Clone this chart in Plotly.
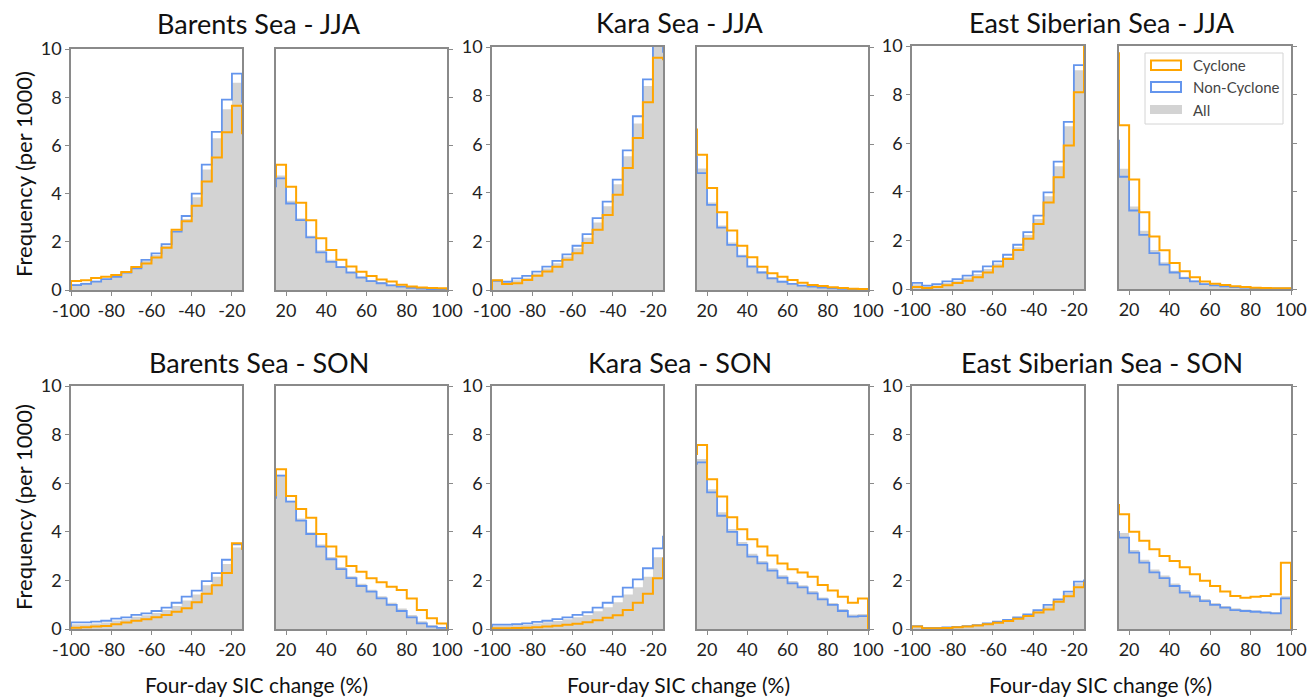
import plotly.graph_objects as go

W, H = 1314, 697

# Bin edges (5 % wide). The outermost bin on the inner side of each panel
# lies past the axis limit, so only its step riser shows at the frame.
NEG_EDGES = list(range(-100, -5, 5))   # -100 ... -10
POS_EDGES = list(range(10, 105, 5))    # 10 ... 100
NEG_RANGE = [-100, -15]
POS_RANGE = [15, 100]

NEG_TICKS = [-100, -80, -60, -40, -20]
NEG_TICKTEXT = ["-100", "-80", "-60", "-40", "-20"]
POS_TICKS = [20, 40, 60, 80, 100]
POS_TICKTEXT = ["20", "40", "60", "80", "100"]
Y_TICKS = [0, 2, 4, 6, 8, 10]

REGIONS = ["Barents Sea", "Kara Sea", "East Siberian Sea"]
SEASONS = ["JJA", "SON"]
X_TITLE = "Four-day SIC change (%)"
Y_TITLE = "Frequency (per 1000)"

# ---- Frequencies (per 1000), summer (JJA) ----
barents_jja_cyc_neg = [0.37, 0.4, 0.5, 0.55, 0.62, 0.75, 0.95, 1.1, 1.35, 1.75, 2.5, 2.85, 3.5, 4.5, 5.5, 6.55, 7.65, 6.5]
barents_jja_non_neg = [0.2, 0.25, 0.35, 0.45, 0.55, 0.72, 0.9, 1.25, 1.52, 1.9, 2.42, 3.07, 4.0, 5.2, 6.56, 7.9, 8.98, 7.8]
barents_jja_all_neg = [0.25, 0.3, 0.38, 0.47, 0.55, 0.72, 0.9, 1.2, 1.45, 1.85, 2.45, 2.95, 3.85, 5.0, 6.3, 7.5, 8.6, 7.5]
barents_jja_cyc_pos = [4.7, 5.2, 4.28, 3.62, 2.89, 2.15, 1.66, 1.25, 0.97, 0.76, 0.58, 0.44, 0.35, 0.22, 0.15, 0.1, 0.08, 0.07]
barents_jja_non_pos = [4.3, 4.63, 3.59, 2.9, 2.18, 1.56, 1.17, 0.95, 0.72, 0.51, 0.37, 0.28, 0.19, 0.14, 0.09, 0.06, 0.04, 0.03]
barents_jja_all_pos = [4.4, 4.75, 3.7, 2.98, 2.25, 1.65, 1.25, 1.0, 0.78, 0.57, 0.42, 0.32, 0.23, 0.16, 0.11, 0.07, 0.05, 0.04]

kara_jja_cyc_neg = [0.4, 0.25, 0.28, 0.41, 0.59, 0.76, 0.96, 1.24, 1.51, 1.93, 2.48, 3.09, 3.92, 5.02, 6.26, 7.73, 9.56, 9.5]
kara_jja_non_neg = [0.38, 0.34, 0.48, 0.58, 0.76, 0.96, 1.2, 1.47, 1.82, 2.3, 2.96, 3.64, 4.54, 5.75, 7.15, 8.67, 10.2, 9.8]
kara_jja_all_neg = [0.38, 0.3, 0.4, 0.5, 0.68, 0.88, 1.1, 1.38, 1.72, 2.15, 2.78, 3.45, 4.35, 5.5, 6.85, 8.4, 10.05, 9.7]
kara_jja_cyc_pos = [6.6, 5.57, 4.2, 3.2, 2.45, 1.82, 1.35, 0.96, 0.69, 0.55, 0.41, 0.3, 0.21, 0.16, 0.11, 0.08, 0.05, 0.04]
kara_jja_non_pos = [5.5, 4.81, 3.5, 2.57, 1.86, 1.38, 0.96, 0.72, 0.48, 0.34, 0.25, 0.18, 0.14, 0.1, 0.07, 0.05, 0.03, 0.02]
kara_jja_all_pos = [5.6, 5.0, 3.6, 2.65, 1.95, 1.45, 1.02, 0.77, 0.53, 0.38, 0.28, 0.2, 0.15, 0.11, 0.08, 0.05, 0.03, 0.02]

esib_jja_cyc_neg = [0.08, 0.04, 0.08, 0.15, 0.25, 0.34, 0.48, 0.68, 0.93, 1.23, 1.61, 2.07, 2.67, 3.56, 4.6, 5.91, 8.1, 11.0]
esib_jja_non_neg = [0.25, 0.14, 0.2, 0.31, 0.41, 0.55, 0.72, 0.93, 1.14, 1.41, 1.82, 2.34, 3.02, 3.98, 5.24, 6.88, 9.21, 9.0]
esib_jja_all_neg = [0.2, 0.1, 0.15, 0.25, 0.35, 0.47, 0.62, 0.82, 1.05, 1.32, 1.72, 2.22, 2.88, 3.82, 5.05, 6.7, 9.0, 9.0]
esib_jja_cyc_pos = [9.7, 6.74, 4.51, 3.16, 2.16, 1.59, 1.07, 0.73, 0.48, 0.31, 0.22, 0.16, 0.11, 0.08, 0.05, 0.04, 0.03, 0.03]
esib_jja_non_pos = [6.1, 4.62, 3.23, 2.23, 1.48, 1.0, 0.68, 0.45, 0.31, 0.2, 0.15, 0.11, 0.08, 0.06, 0.04, 0.03, 0.02, 0.02]
esib_jja_all_pos = [6.3, 4.95, 3.4, 2.4, 1.6, 1.1, 0.75, 0.5, 0.35, 0.23, 0.17, 0.12, 0.09, 0.06, 0.04, 0.03, 0.02, 0.02]

# ---- Frequencies (per 1000), autumn (SON) ----
barents_son_cyc_neg = [0.05, 0.07, 0.1, 0.12, 0.2, 0.27, 0.34, 0.4, 0.48, 0.58, 0.71, 0.85, 1.1, 1.45, 1.8, 2.3, 3.53, 3.3]
barents_son_non_neg = [0.27, 0.27, 0.3, 0.34, 0.43, 0.48, 0.58, 0.64, 0.74, 0.88, 1.08, 1.33, 1.58, 1.97, 2.3, 2.85, 3.48, 3.3]
barents_son_all_neg = [0.2, 0.2, 0.23, 0.27, 0.35, 0.4, 0.5, 0.57, 0.66, 0.78, 0.95, 1.17, 1.42, 1.8, 2.15, 2.68, 3.35, 3.2]
barents_son_cyc_pos = [5.5, 6.57, 5.47, 4.94, 4.58, 3.91, 3.39, 2.98, 2.59, 2.36, 2.09, 1.92, 1.74, 1.6, 1.26, 0.78, 0.44, 0.23]
barents_son_non_pos = [5.4, 6.31, 5.24, 4.46, 3.91, 3.39, 2.87, 2.46, 2.09, 1.77, 1.54, 1.26, 0.99, 0.74, 0.48, 0.23, 0.1, 0.05]
barents_son_all_pos = [5.45, 6.35, 5.28, 4.55, 3.98, 3.48, 2.96, 2.55, 2.17, 1.86, 1.62, 1.35, 1.08, 0.84, 0.58, 0.32, 0.16, 0.08]

kara_son_cyc_neg = [0.03, 0.03, 0.04, 0.05, 0.07, 0.1, 0.13, 0.17, 0.22, 0.28, 0.36, 0.46, 0.57, 0.78, 1.08, 1.45, 2.09, 2.9]
kara_son_non_neg = [0.18, 0.18, 0.2, 0.23, 0.29, 0.34, 0.41, 0.48, 0.58, 0.69, 0.88, 1.08, 1.33, 1.7, 2.04, 2.5, 3.32, 3.8]
kara_son_all_neg = [0.14, 0.14, 0.16, 0.18, 0.23, 0.28, 0.33, 0.4, 0.48, 0.58, 0.73, 0.9, 1.1, 1.42, 1.72, 2.15, 2.95, 3.4]
kara_son_cyc_pos = [7.2, 7.57, 6.16, 5.45, 4.6, 4.1, 3.69, 3.39, 3.02, 2.7, 2.46, 2.32, 2.15, 1.81, 1.58, 1.33, 1.08, 1.26]
kara_son_non_pos = [6.8, 6.86, 5.62, 4.66, 4.0, 3.46, 2.98, 2.7, 2.4, 2.11, 1.88, 1.71, 1.47, 1.22, 0.99, 0.74, 0.51, 0.53]
kara_son_all_pos = [6.9, 7.0, 5.75, 4.8, 4.12, 3.58, 3.1, 2.8, 2.5, 2.21, 1.98, 1.8, 1.56, 1.3, 1.07, 0.82, 0.6, 0.62]

esib_son_cyc_neg = [0.1, 0.03, 0.03, 0.04, 0.07, 0.1, 0.14, 0.2, 0.26, 0.33, 0.42, 0.53, 0.68, 0.8, 1.12, 1.35, 1.72, 1.9]
esib_son_non_neg = [0.12, 0.05, 0.05, 0.07, 0.09, 0.12, 0.16, 0.23, 0.3, 0.37, 0.48, 0.6, 0.78, 0.99, 1.22, 1.54, 1.95, 2.0]
esib_son_all_neg = [0.11, 0.04, 0.04, 0.06, 0.08, 0.11, 0.15, 0.22, 0.28, 0.35, 0.46, 0.57, 0.74, 0.94, 1.19, 1.48, 1.88, 1.95]
esib_son_cyc_pos = [5.1, 4.72, 4.0, 3.63, 3.28, 3.0, 2.8, 2.54, 2.25, 1.99, 1.77, 1.54, 1.36, 1.29, 1.33, 1.36, 1.43, 2.73]
esib_son_non_pos = [4.0, 3.76, 3.14, 2.73, 2.33, 2.09, 1.77, 1.5, 1.33, 1.15, 0.99, 0.88, 0.78, 0.74, 0.71, 0.67, 0.64, 1.26]
esib_son_all_pos = [4.1, 3.95, 3.25, 2.85, 2.45, 2.2, 1.87, 1.6, 1.42, 1.23, 1.07, 0.95, 0.85, 0.8, 0.77, 0.73, 0.7, 1.35]

SERIES = {
    ("Barents Sea", "JJA"): (barents_jja_cyc_neg, barents_jja_non_neg, barents_jja_all_neg,
                             barents_jja_cyc_pos, barents_jja_non_pos, barents_jja_all_pos),
    ("Kara Sea", "JJA"): (kara_jja_cyc_neg, kara_jja_non_neg, kara_jja_all_neg,
                          kara_jja_cyc_pos, kara_jja_non_pos, kara_jja_all_pos),
    ("East Siberian Sea", "JJA"): (esib_jja_cyc_neg, esib_jja_non_neg, esib_jja_all_neg,
                                   esib_jja_cyc_pos, esib_jja_non_pos, esib_jja_all_pos),
    ("Barents Sea", "SON"): (barents_son_cyc_neg, barents_son_non_neg, barents_son_all_neg,
                             barents_son_cyc_pos, barents_son_non_pos, barents_son_all_pos),
    ("Kara Sea", "SON"): (kara_son_cyc_neg, kara_son_non_neg, kara_son_all_neg,
                          kara_son_cyc_pos, kara_son_non_pos, kara_son_all_pos),
    ("East Siberian Sea", "SON"): (esib_son_cyc_neg, esib_son_non_neg, esib_son_all_neg,
                                   esib_son_cyc_pos, esib_son_non_pos, esib_son_all_pos),
}

# ---- Styling ----
C_CYC = "#FFA500"
C_NON = "#6495ED"
C_ALL = "#D3D3D3"
C_FRAME = "#8a8a8a"
FONT = "Lato"
TXT = "#222222"

# Panel frames in pixels: columns (x0, x1); rows (y_top, y_bottom) per region
COL_PX = [(71, 242), (276, 447), (492, 663), (697, 868), (912, 1084), (1119, 1291)]
ROW_PX = [[(49, 290), (47, 290), (46, 289)],
          [(386, 629), (386, 629), (386, 629)]]
TITLE_Y = [[24, 22.5, 22.5], [362, 362, 362]]
XTITLE_Y = 684
XTITLE_X = [256, 678, 1100]
YTITLE_X = 23
YTITLE_Y = [174, 507]


def px_x(x):
    return x / W


def px_y(y):
    return 1 - y / H


def step_xy(edges, vals):
    xs = [edges[0]] + list(edges)
    ys = [0] + list(vals) + [0]
    return xs, ys


fig = go.Figure()
layout = {}
annotations = []

for r, season in enumerate(SEASONS):
    for c, region in enumerate(REGIONS):
        cyc_n, non_n, all_n, cyc_p, non_p, all_p = SERIES[(region, season)]
        y_top, y_bot = ROW_PX[r][c]
        for side in (0, 1):
            col = 2 * c + side
            k = r * 6 + col + 1
            xa = "x" if k == 1 else f"x{k}"
            ya = "y" if k == 1 else f"y{k}"
            edges = NEG_EDGES if side == 0 else POS_EDGES
            sets = (all_n, non_n, cyc_n) if side == 0 else (all_p, non_p, cyc_p)

            xs, ys = step_xy(edges, sets[0])
            fig.add_trace(go.Scatter(x=xs, y=ys, mode="lines", line=dict(shape="hv", width=0),
                                     fill="tozeroy", fillcolor=C_ALL, xaxis=xa, yaxis=ya,
                                     showlegend=False, hoverinfo="skip"))
            xs, ys = step_xy(edges, sets[1])
            fig.add_trace(go.Scatter(x=xs, y=ys, mode="lines", line=dict(shape="hv", width=1.8, color=C_NON),
                                     xaxis=xa, yaxis=ya, showlegend=False, hoverinfo="skip"))
            xs, ys = step_xy(edges, sets[2])
            fig.add_trace(go.Scatter(x=xs, y=ys, mode="lines", line=dict(shape="hv", width=2, color=C_CYC),
                                     xaxis=xa, yaxis=ya, showlegend=False, hoverinfo="skip"))

            x0, x1 = COL_PX[col]
            xkey = "xaxis" if k == 1 else f"xaxis{k}"
            ykey = "yaxis" if k == 1 else f"yaxis{k}"
            layout[xkey] = dict(
                domain=[px_x(x0), px_x(x1)], anchor=ya, automargin=False,
                range=NEG_RANGE if side == 0 else POS_RANGE,
                tickmode="array",
                tickvals=NEG_TICKS if side == 0 else POS_TICKS,
                ticktext=NEG_TICKTEXT if side == 0 else POS_TICKTEXT,
                ticks="outside", ticklen=4, tickwidth=1.2, tickcolor=C_FRAME,
                showline=True, mirror=True, linecolor=C_FRAME, linewidth=1.6,
                layer="below traces",
                showgrid=False, zeroline=False, fixedrange=True,
                tickfont=dict(family=FONT, size=18, color=TXT),
            )
            layout[ykey] = dict(
                domain=[px_y(y_bot), px_y(y_top)], anchor=xa, automargin=False,
                range=[0, 10], tickmode="array", tickvals=Y_TICKS,
                side="left" if side == 0 else "right",
                showticklabels=(side == 0),
                ticks="outside", ticklen=4, tickwidth=1.2, tickcolor=C_FRAME,
                showline=True, mirror=True, linecolor=C_FRAME, linewidth=1.6,
                layer="below traces",
                showgrid=False, zeroline=False, fixedrange=True,
                tickfont=dict(family=FONT, size=18, color=TXT),
            )

        # Panel-pair title
        cx = (COL_PX[2 * c][0] + COL_PX[2 * c + 1][1]) / 2
        annotations.append(dict(text=f"{region} - {season}", x=px_x(cx), y=px_y(TITLE_Y[r][c]),
                                xref="paper", yref="paper", xanchor="center", yanchor="middle",
                                showarrow=False, font=dict(family=FONT, size=27, color="#111111")))

    annotations.append(dict(text=Y_TITLE, x=px_x(YTITLE_X), y=px_y(YTITLE_Y[r]), textangle=-90,
                            xref="paper", yref="paper", xanchor="center", yanchor="middle",
                            showarrow=False, font=dict(family=FONT, size=22, color="#111111")))

for c in range(3):
    annotations.append(dict(text=X_TITLE, x=px_x(XTITLE_X[c]), y=px_y(XTITLE_Y),
                            xref="paper", yref="paper", xanchor="center", yanchor="middle",
                            showarrow=False, font=dict(family=FONT, size=21, color="#111111")))

# Legend box drawn in the East Siberian Sea JJA positive-change panel
LEGEND_LABELS = ["Cyclone", "Non-Cyclone", "All"]
shapes = [dict(type="rect", xref="paper", yref="paper",
               x0=px_x(1145), x1=px_x(1283), y0=px_y(124), y1=px_y(53),
               line=dict(color="#d4d4d4", width=1), fillcolor="white", layer="above")]
swatch_rows = [(60.5, 70), (82, 92), (105, 114)]
for i, label in enumerate(LEGEND_LABELS):
    ya0, ya1 = swatch_rows[i]
    if i < 2:
        shapes.append(dict(type="rect", xref="paper", yref="paper",
                           x0=px_x(1151), x1=px_x(1181), y0=px_y(ya1), y1=px_y(ya0),
                           line=dict(color=[C_CYC, C_NON][i], width=2), fillcolor="rgba(0,0,0,0)",
                           layer="above"))
    else:
        shapes.append(dict(type="rect", xref="paper", yref="paper",
                           x0=px_x(1150), x1=px_x(1182), y0=px_y(ya1), y1=px_y(ya0),
                           line=dict(width=0), fillcolor=C_ALL, layer="above"))
    annotations.append(dict(text=label, x=px_x(1191), y=px_y((ya0 + ya1) / 2),
                            xref="paper", yref="paper", xanchor="left", yanchor="middle",
                            showarrow=False, font=dict(family=FONT, size=15, color="#444444")))

fig.update_layout(
    width=W, height=H, margin=dict(l=0, r=0, t=0, b=0, pad=0, autoexpand=False),
    paper_bgcolor="white", plot_bgcolor="white",
    showlegend=False, annotations=annotations, shapes=shapes,
    **layout,
)

fig.write_html("out.html", config={"displayModeBar": False})
